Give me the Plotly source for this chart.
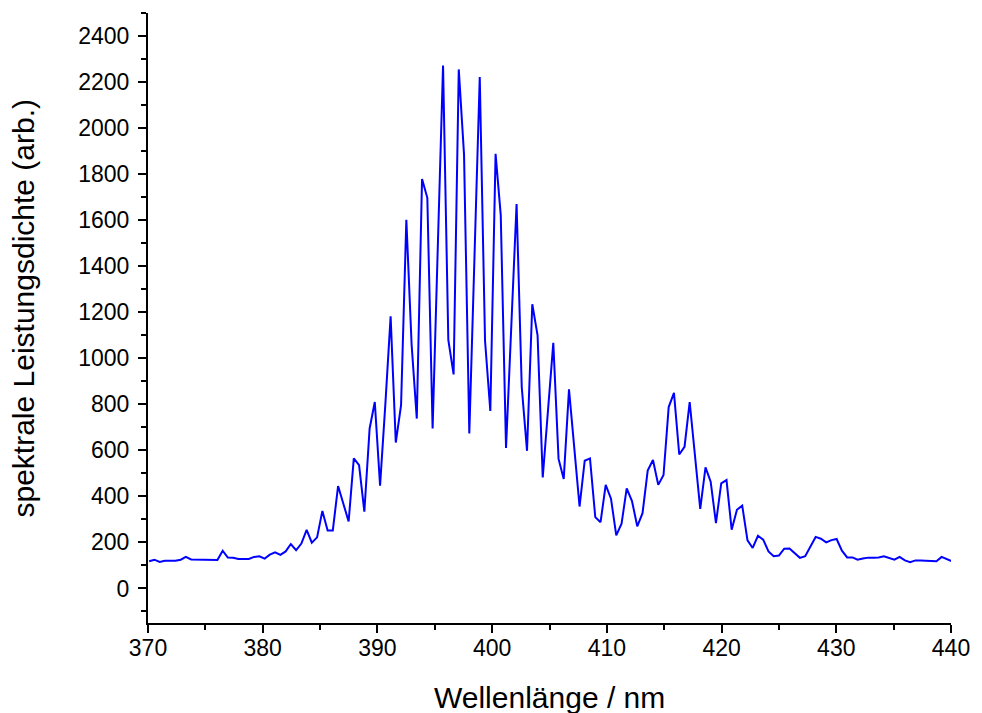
import plotly.graph_objects as go

# Wavelength grid of the spectrometer (nm)
wavelength_nm = [
    370.10, 370.56, 371.02, 371.47, 371.93, 372.39, 372.85, 373.30, 373.76, 374.22,
    374.68, 375.13, 375.59, 376.05, 376.51, 376.96, 377.42, 377.88, 378.34, 378.79,
    379.25, 379.71, 380.17, 380.62, 381.08, 381.54, 382.00, 382.45, 382.91, 383.37,
    383.83, 384.28, 384.74, 385.20, 385.66, 386.11, 386.57, 387.03, 387.49, 387.94,
    388.40, 388.86, 389.32, 389.77, 390.23, 390.69, 391.15, 391.60, 392.06, 392.52,
    392.98, 393.43, 393.89, 394.35, 394.81, 395.26, 395.72, 396.18, 396.64, 397.09,
    397.55, 398.01, 398.47, 398.92, 399.38, 399.84, 400.30, 400.75, 401.21, 401.67,
    402.13, 402.58, 403.04, 403.50, 403.96, 404.41, 404.87, 405.33, 405.79, 406.24,
    406.70, 407.16, 407.62, 408.07, 408.53, 408.99, 409.45, 409.90, 410.36, 410.82,
    411.28, 411.73, 412.19, 412.65, 413.11, 413.56, 414.02, 414.48, 414.94, 415.39,
    415.85, 416.31, 416.77, 417.22, 417.68, 418.14, 418.60, 419.05, 419.51, 419.97,
    420.43, 420.88, 421.34, 421.80, 422.26, 422.71, 423.17, 423.63, 424.09, 424.54,
    425.00, 425.46, 425.92, 426.37, 426.83, 427.29, 427.75, 428.20, 428.66, 429.12,
    429.58, 430.03, 430.49, 430.95, 431.41, 431.86, 432.32, 432.78, 433.24, 433.69,
    434.15, 434.61, 435.07, 435.52, 435.98, 436.44, 436.90, 437.35, 437.81, 438.27,
    438.73, 439.18, 439.64, 440.10,
]

# Spectral power density (arbitrary units)
power_density = [
    118, 125, 115, 120, 120, 120, 125, 137, 126, 125,
    124, 123, 123, 124, 164, 134, 133, 128, 128, 128,
    137, 140, 130, 147, 157, 146, 161, 193, 166, 195,
    255, 199, 222, 337, 252, 252, 445, 370, 291, 565,
    536, 334, 695, 810, 447, 800, 1182, 634, 796, 1602,
    1060, 738, 1779, 1697, 695, 1480, 2272, 1080, 930, 2255,
    1884, 673, 1450, 2222, 1077, 771, 1888, 1622, 610, 1140,
    1670, 875, 598, 1235, 1100, 482, 780, 1067, 563, 476,
    865, 620, 356, 555, 565, 310, 288, 450, 390, 231,
    281, 435, 380, 270, 327, 512, 558, 450, 493, 788,
    850, 582, 615, 810, 570, 346, 526, 464, 284, 457,
    471, 255, 342, 360, 209, 176, 229, 212, 161, 140,
    143, 173, 174, 154, 133, 140, 180, 224, 216, 200,
    210, 215, 164, 135, 135, 125, 130, 134, 134, 135,
    140, 132, 125, 137, 122, 114, 122, 121, 120, 118,
    118, 137, 128, 118,
]

x_ticks = [370, 380, 390, 400, 410, 420, 430, 440]
y_ticks = [0, 200, 400, 600, 800, 1000, 1200, 1400, 1600, 1800, 2000, 2200, 2400]

FONT = "Liberation Sans, Arial, sans-serif"

fig = go.Figure()
fig.add_trace(go.Scatter(
    x=wavelength_nm,
    y=power_density,
    mode="lines",
    line=dict(color="#0000FF", width=2),
    showlegend=False,
))

axis_common = dict(
    showline=True,
    linecolor="black",
    linewidth=2,
    ticks="outside",
    ticklen=8,
    tickwidth=2,
    tickcolor="black",
    showgrid=False,
    zeroline=False,
    mirror=False,
    tickfont=dict(family=FONT, size=23, color="black"),
)

fig.update_layout(
    width=982,
    height=713,
    margin=dict(l=148, r=22, t=13, b=90),
    paper_bgcolor="white",
    plot_bgcolor="white",
    font=dict(family=FONT, color="black"),
    xaxis=dict(
        range=[370, 440],
        tickmode="array",
        tickvals=x_ticks,
        ticktext=[str(v) for v in x_ticks],
        ticklabelstandoff=-5,
        minor=dict(dtick=5, tick0=370, ticks="outside", ticklen=5, tickwidth=2, tickcolor="black"),
        **axis_common,
    ),
    yaxis=dict(
        range=[-150, 2500],
        tickmode="array",
        tickvals=y_ticks,
        ticktext=[str(v) for v in y_ticks],
        ticklabelstandoff=4,
        minor=dict(dtick=100, tick0=0, ticks="outside", ticklen=5, tickwidth=2, tickcolor="black"),
        **axis_common,
    ),
    annotations=[
        dict(
            text="Wellenlänge / nm",
            xref="paper", yref="paper",
            x=0.5, y=-0.092,
            xanchor="center", yanchor="top",
            showarrow=False,
            font=dict(family=FONT, size=30, color="black"),
        ),
        dict(
            text="spektrale Leistungsdichte (arb.)",
            xref="paper", yref="paper",
            x=-0.155, y=0.5164,
            xanchor="center", yanchor="middle",
            textangle=-90,
            showarrow=False,
            font=dict(family=FONT, size=30, color="black"),
        ),
    ],
)

fig.write_html("out.html")
